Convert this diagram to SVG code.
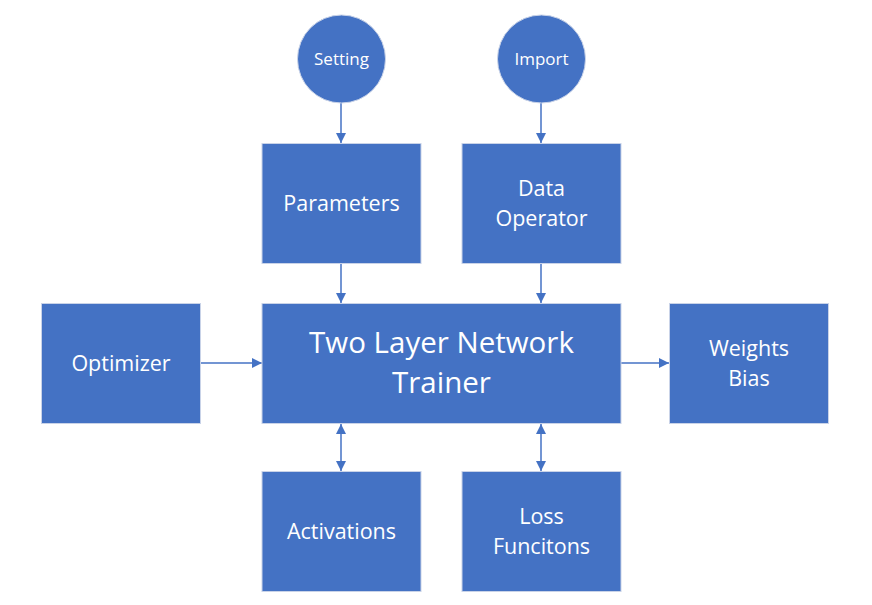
<svg xmlns="http://www.w3.org/2000/svg" width="872" height="605" viewBox="0 0 872 605">
<style>
.n{fill:#4472C4;stroke:#C9D3E8;stroke-width:1}
.t{fill:#fff;font-family:"Open Sans","Noto Sans",sans-serif;text-anchor:middle}
.c{stroke:#4472C4;stroke-width:1.5;fill:none}
</style>
<defs>
<marker id="ah" viewBox="0 0 10 10" refX="10" refY="5" markerWidth="10" markerHeight="10" orient="auto-start-reverse" markerUnits="userSpaceOnUse">
<path d="M0,0 L10,5 L0,10 z" fill="#4472C4"/>
</marker>
</defs>
<rect width="872" height="605" fill="#fff"/>
<g id="connectors">
<line class="c" x1="341" y1="103" x2="341" y2="143" marker-end="url(#ah)"/>
<line class="c" x1="541" y1="103" x2="541" y2="143" marker-end="url(#ah)"/>
<line class="c" x1="341" y1="263" x2="341" y2="303" marker-end="url(#ah)"/>
<line class="c" x1="541" y1="263" x2="541" y2="303" marker-end="url(#ah)"/>
<line class="c" x1="201" y1="363" x2="262" y2="363" marker-end="url(#ah)"/>
<line class="c" x1="621" y1="363" x2="669" y2="363" marker-end="url(#ah)"/>
<line class="c" x1="341" y1="424" x2="341" y2="471" marker-start="url(#ah)" marker-end="url(#ah)"/>
<line class="c" x1="541" y1="424" x2="541" y2="471" marker-start="url(#ah)" marker-end="url(#ah)"/>
</g>
<g id="setting"><circle class="n" cx="341.5" cy="59" r="44"/><text class="t" x="341.5" y="65" font-size="17">Setting</text></g>
<g id="import"><circle class="n" cx="541.5" cy="59" r="44"/><text class="t" x="541.5" y="65" font-size="17">Import</text></g>
<g id="parameters"><rect class="n" x="262" y="143.5" width="159" height="120"/><text class="t" x="341.5" y="211" font-size="21.5">Parameters</text></g>
<g id="dataop"><rect class="n" x="462" y="143.5" width="159" height="120"/><text class="t" x="541.5" y="196" font-size="21.5">Data</text><text class="t" x="541.5" y="226" font-size="21.5">Operator</text></g>
<g id="optimizer"><rect class="n" x="41.5" y="303.5" width="159" height="120"/><text class="t" x="121" y="371" font-size="21.5">Optimizer</text></g>
<g id="trainer"><rect class="n" x="262" y="303.5" width="359" height="120"/><text class="t" x="441.5" y="353" font-size="29.5">Two Layer Network</text><text class="t" x="441.5" y="393" font-size="29.5">Trainer</text></g>
<g id="weights"><rect class="n" x="669.5" y="303.5" width="159" height="120"/><text class="t" x="749" y="356" font-size="21.5">Weights</text><text class="t" x="749" y="386" font-size="21.5">Bias</text></g>
<g id="activations"><rect class="n" x="262" y="471.5" width="159" height="120"/><text class="t" x="341.5" y="539" font-size="21.5">Activations</text></g>
<g id="loss"><rect class="n" x="462" y="471.5" width="159" height="120"/><text class="t" x="541.5" y="524" font-size="21.5">Loss</text><text class="t" x="541.5" y="554" font-size="21.5">Funcitons</text></g>
</svg>
